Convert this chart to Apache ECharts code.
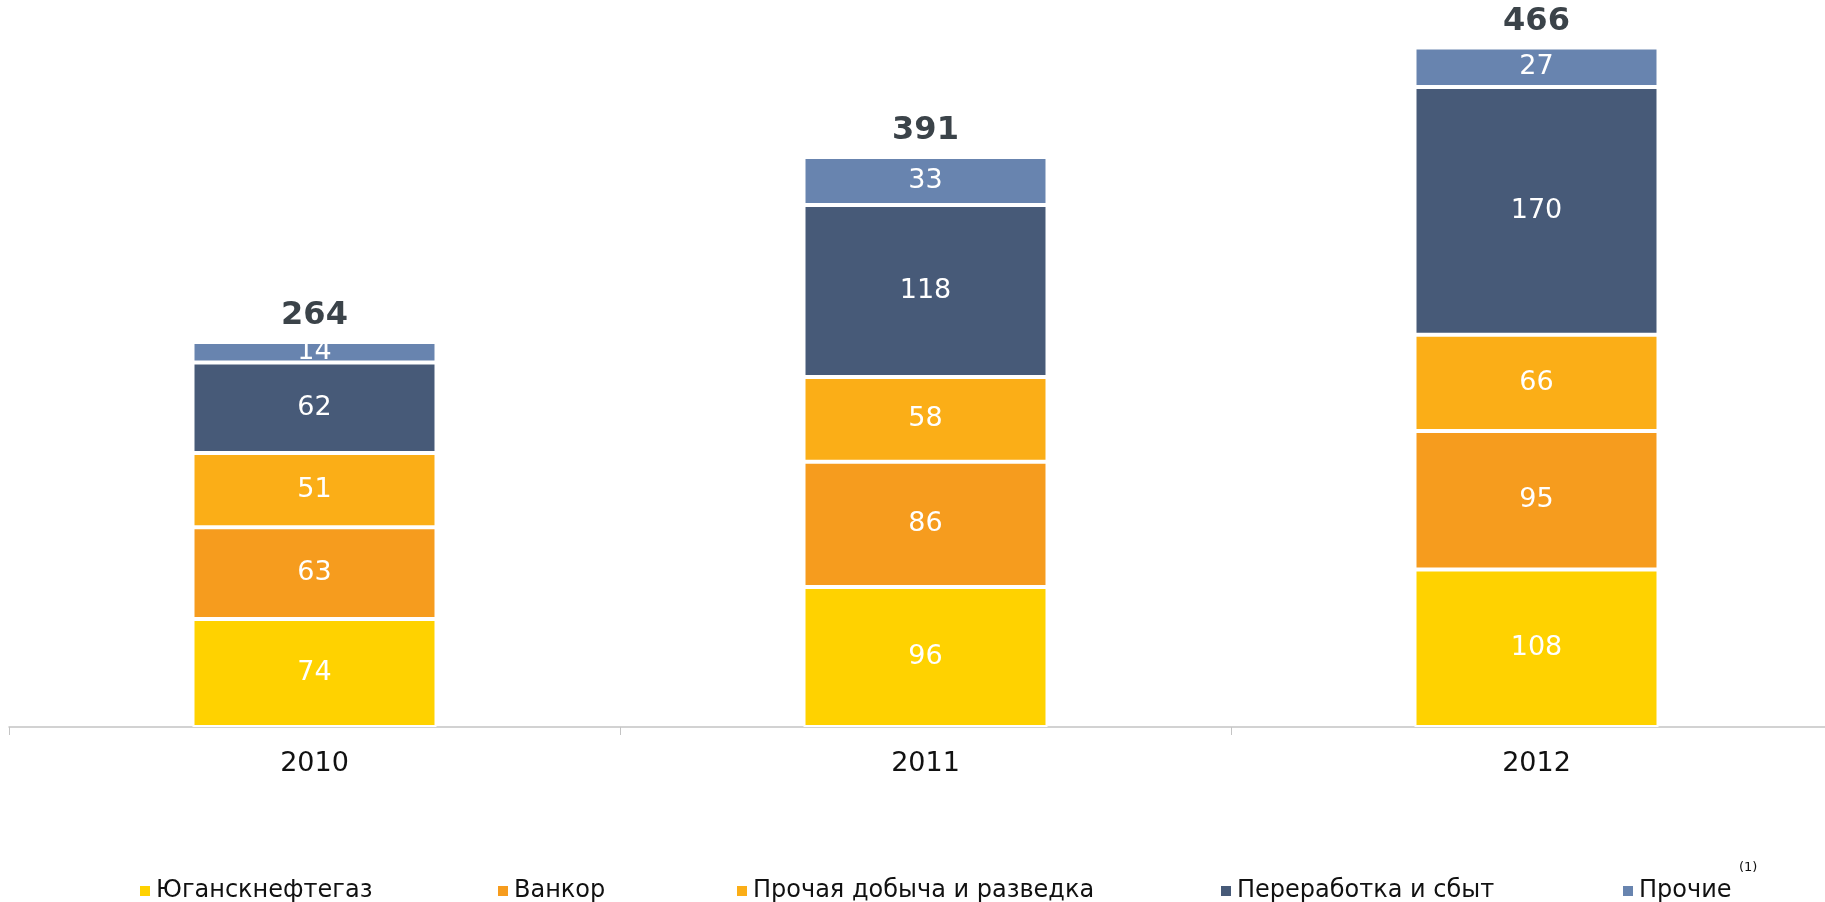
<!DOCTYPE html>
<html>
<head>
<meta charset="utf-8">
<script src="https://cdn.jsdelivr.net/npm/echarts@6/dist/echarts.min.js"></script>
<style>
html,body{margin:0;padding:0;background:#fff;}
#chart{width:1825px;height:902px;}
</style>
</head>
<body>
<div id="chart"></div>
<script>
const years = ['2010', '2011', '2012'];
const seriesNames = ['Юганскнефтегаз', 'Ванкор', 'Прочая добыча и разведка', 'Переработка и сбыт', 'Прочие'];
const yugansk = [74, 96, 108];
const vankor = [63, 86, 95];
const otherUpstream = [51, 58, 66];
const downstream = [62, 118, 170];
const others = [14, 33, 27];
const seriesValues = [yugansk, vankor, otherUpstream, downstream, others];
const colors = ['#FFD200', '#F69C1E', '#FBAE17', '#475A78', '#6884AF'];
const totals = years.map((_, i) => seriesValues.reduce((s, arr) => s + arr[i], 0));

const labelFont = "'DejaVu Sans', sans-serif";

const chart = echarts.init(document.getElementById('chart'), null, {renderer: 'canvas'});

const series = seriesNames.map((name, k) => ({
  name: name,
  type: 'bar',
  stack: 'total',
  barWidth: 244,
  data: seriesValues[k],
  itemStyle: {color: colors[k], borderColor: '#ffffff', borderWidth: 2},
  label: {
    show: true,
    position: 'inside',
    color: '#ffffff',
    fontFamily: labelFont,
    fontSize: 27
  },
  emphasis: {disabled: true}
}));

series.push({
  name: 'total',
  type: 'bar',
  stack: 'total',
  barWidth: 244,
  data: years.map(() => 0),
  itemStyle: {color: 'transparent', borderWidth: 0},
  label: {
    show: true,
    position: 'top',
    distance: 10,
    formatter: p => String(totals[p.dataIndex]),
    color: '#3b4349',
    fontFamily: "'DejaVu Sans', sans-serif",
    fontWeight: 'bold',
    fontSize: 32
  },
  emphasis: {disabled: true}
});

const legendLefts = [138, 496, 735, 1219, 1621];
const legends = seriesNames.map((name, k) => ({
  data: [name],
  left: legendLefts[k],
  top: 879,
  padding: 0,
  itemWidth: 12,
  itemHeight: 12,
  itemGap: 0,
  icon: 'rect',
  selectedMode: false,
  textStyle: {
    color: '#111111',
    fontFamily: "'DejaVu Sans', sans-serif",
    fontSize: 24
  }
}));

chart.setOption({
  animation: false,
  backgroundColor: '#ffffff',
  grid: {left: 9, width: 1833, top: -2, bottom: 175, containLabel: false, outerBoundsMode: 'none'},
  legend: legends,
  graphic: [{
    type: 'text',
    left: 1739,
    top: 861,
    style: {text: '(1)', fill: '#111111', font: "13px 'DejaVu Sans', sans-serif"}
  }],
  xAxis: {
    type: 'category',
    data: years,
    axisLine: {show: true, lineStyle: {color: '#c4c4c4', width: 1.5}},
    axisTick: {show: true, length: 8, lineStyle: {color: '#c4c4c4', width: 1}},
    axisLabel: {
      color: '#111111',
      fontFamily: labelFont,
      fontSize: 27,
      margin: 23
    }
  },
  yAxis: {
    type: 'value',
    min: 0,
    max: 500,
    interval: 100,
    show: false,
    splitLine: {show: false}
  },
  series: series
});
</script>
</body>
</html>
